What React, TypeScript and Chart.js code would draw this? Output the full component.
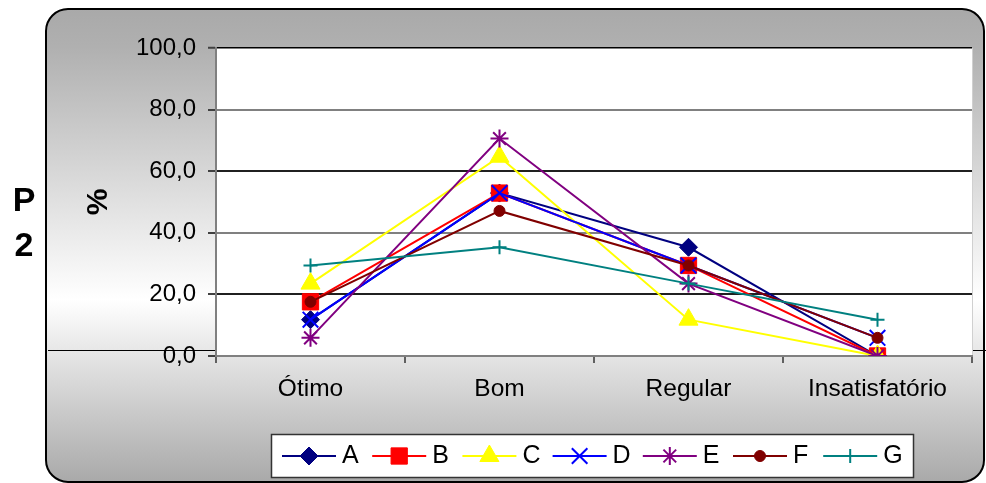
import React, { useEffect, useRef } from 'react';
import { Chart, registerables } from 'chart.js';
import { drawPoint } from 'chart.js/helpers';

Chart.register(...registerables);

const categories = ['Ótimo', 'Bom', 'Regular', 'Insatisfatório'];
const seriesNames = ['A', 'B', 'C', 'D', 'E', 'F', 'G'];
const seriesA = [11.8, 52.9, 35.3, 0];
const seriesB = [17.6, 52.9, 29.4, 0];
const seriesC = [23.5, 64.7, 11.8, 0];
const seriesD = [11.8, 52.9, 29.4, 5.9];
const seriesE = [5.9, 70.6, 23.5, 0];
const seriesF = [17.6, 47.1, 29.4, 5.9];
const seriesG = [29.4, 35.3, 23.5, 11.8];
const seriesValues = [seriesA, seriesB, seriesC, seriesD, seriesE, seriesF, seriesG];
const yMin = 0;
const yMax = 100;
const yStep = 20;
const sideLabel = ['P', '2'];
const yAxisTitle = '%';

const colors = ['#000080', '#FF0000', '#FFFF00', '#0000FF', '#800080', '#800000', '#008080'];
const pointStyles = ['rectRot', 'rect', 'triangle', 'crossRot', 'star', 'circle', 'cross'];
const pointRadii = [9, 11.5, 11, 11, 9, 5.5, 7];
const pointBorderWidths = [1, 1, 1, 2, 2, 1, 2];
const FONT = '"Liberation Sans", Arial, sans-serif';

const decorPlugin = {
  id: 'decor',
  beforeDraw(chart: any) {
    const ctx = chart.ctx;
    const { left, top, right, bottom } = chart.chartArea;
    ctx.save();
    ctx.fillStyle = '#ffffff';
    ctx.fillRect(0, 0, chart.width, chart.height);
    const x0 = 46, y0 = 9, x1 = 984, y1 = 482, r = 22;
    const g = ctx.createLinearGradient(0, y0, 0, y1);
    g.addColorStop(0, '#A9A9A9');
    g.addColorStop(0.08, '#B0B0B0');
    g.addColorStop(0.615, '#FFFFFF');
    g.addColorStop(1, '#A9A9A9');
    ctx.beginPath();
    ctx.moveTo(x0 + r, y0);
    ctx.lineTo(x1 - r, y0);
    ctx.arcTo(x1, y0, x1, y0 + r, r);
    ctx.lineTo(x1, y1 - r);
    ctx.arcTo(x1, y1, x1 - r, y1, r);
    ctx.lineTo(x0 + r, y1);
    ctx.arcTo(x0, y1, x0, y1 - r, r);
    ctx.lineTo(x0, y0 + r);
    ctx.arcTo(x0, y0, x0 + r, y0, r);
    ctx.closePath();
    ctx.fillStyle = g;
    ctx.fill();
    ctx.lineWidth = 2;
    ctx.strokeStyle = '#000000';
    ctx.stroke();
    ctx.beginPath();
    ctx.moveTo(48, 350.5);
    ctx.lineTo(986, 350.5);
    ctx.lineWidth = 1;
    ctx.strokeStyle = '#000000';
    ctx.stroke();
    ctx.fillStyle = '#ffffff';
    ctx.fillRect(left, top, right - left, bottom - top);
    ctx.strokeStyle = '#d0d0d0';
    ctx.lineWidth = 1;
    ctx.beginPath();
    ctx.moveTo(right + 0.5, top);
    ctx.lineTo(right + 0.5, bottom);
    ctx.stroke();
    ctx.restore();
  },
  afterDraw(chart: any) {
    const ctx = chart.ctx;
    ctx.save();
    ctx.fillStyle = '#000';
    ctx.font = `bold 34px ${FONT}`;
    ctx.textAlign = 'center';
    ctx.textBaseline = 'alphabetic';
    ctx.fillText(sideLabel[0], 24, 211);
    ctx.fillText(sideLabel[1], 24, 256);
    ctx.save();
    ctx.translate(107, 202);
    ctx.rotate(-Math.PI / 2);
    ctx.font = `bold 30px ${FONT}`;
    ctx.textAlign = 'center';
    ctx.fillText(yAxisTitle, 0, 0);
    ctx.restore();
    const bx = 271, by = 434, bw = 642, bh = 43;
    ctx.fillStyle = '#ffffff';
    ctx.fillRect(bx, by, bw, bh);
    ctx.strokeStyle = '#333333';
    ctx.lineWidth = 1.5;
    ctx.strokeRect(bx + 0.5, by + 0.5, bw, bh);
    const ly = 456;
    chart.data.datasets.forEach((ds: any, i: number) => {
      const lx = 282 + i * 90.2;
      ctx.beginPath();
      ctx.moveTo(lx, ly);
      ctx.lineTo(lx + 54, ly);
      ctx.strokeStyle = ds.borderColor;
      ctx.lineWidth = 2;
      ctx.stroke();
      ctx.fillStyle = ds.pointBackgroundColor;
      ctx.strokeStyle = ds.pointBorderColor;
      ctx.lineWidth = ds.pointBorderWidth;
      drawPoint(ctx, { pointStyle: ds.pointStyle, radius: ds.pointRadius, rotation: 0, borderWidth: ds.pointBorderWidth }, lx + 27, ly);
      ctx.fillStyle = '#000';
      ctx.font = `25px ${FONT}`;
      ctx.textAlign = 'left';
      ctx.textBaseline = 'alphabetic';
      ctx.fillText(ds.label, lx + 60, 463);
    });
    ctx.restore();
  },
};

export default function App() {
  const ref = useRef<HTMLCanvasElement | null>(null);
  useEffect(() => {
    document.body.style.margin = '0';
    const canvas = ref.current;
    if (!canvas) return;
    const n = seriesValues.length;
    const datasets = seriesValues.map((vals, i) => ({
      label: seriesNames[i],
      data: vals,
      borderColor: colors[i],
      backgroundColor: colors[i],
      pointBackgroundColor: colors[i],
      pointBorderColor: colors[i],
      pointStyle: pointStyles[i],
      pointRadius: pointRadii[i],
      pointBorderWidth: pointBorderWidths[i],
      borderWidth: 2,
      tension: 0,
      fill: false,
      order: n - i,
    }));
    const chart = new Chart(canvas, {
      type: 'line',
      data: { labels: categories, datasets },
      options: {
        animation: false,
        responsive: false,
        maintainAspectRatio: false,
        layout: { padding: { top: 48, right: 14, bottom: 0, left: 0 } },
        plugins: { legend: { display: false }, tooltip: { enabled: false } },
        scales: {
          x: {
            type: 'category',
            offset: true,
            afterFit: (s: any) => { s.height = 127; },
            grid: {
              display: true,
              offset: true,
              drawOnChartArea: false,
              drawTicks: true,
              tickLength: 7,
              color: '#606060',
              lineWidth: 2,
            },
            border: { display: true, color: '#808080', width: 2 },
            ticks: { color: '#000', padding: 12, font: { family: FONT, size: 24.5 }, maxRotation: 0 },
          },
          y: {
            min: yMin,
            max: yMax,
            afterFit: (s: any) => { s.width = 216; },
            ticks: {
              stepSize: yStep,
              color: '#000',
              padding: 12,
              font: { family: FONT, size: 24 },
              callback: (v: any) => Number(v).toFixed(1).replace('.', ','),
            },
            grid: {
              drawTicks: true,
              tickLength: 8,
              color: (c: any) => {
                const v = c.tick ? c.tick.value : 0;
                if (v === 0) return '#808080';
                if (v === 100) return '#000000';
                return v % 40 === 0 ? '#808080' : '#202020';
              },
              lineWidth: (c: any) => {
                const v = c.tick ? c.tick.value : 0;
                return v === 100 ? 1.5 : 2;
              },
              tickColor: '#404040',
              tickWidth: 2,
            },
            border: { display: true, color: '#808080', width: 2 },
          },
        },
      },
      plugins: [decorPlugin],
    } as any);
    return () => chart.destroy();
  }, []);
  return (
    <div style={{ position: 'absolute', left: 0, top: 0, width: 986, height: 483 }}>
      <canvas ref={ref} width={986} height={483} style={{ display: 'block' }} />
    </div>
  );
}
